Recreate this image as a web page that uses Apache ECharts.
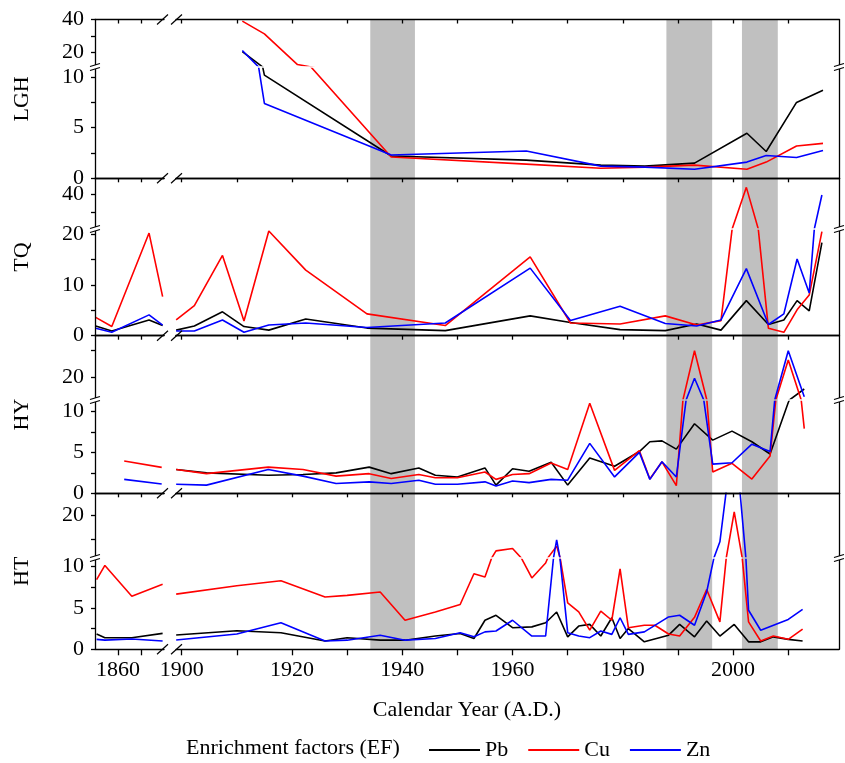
<!DOCTYPE html>
<html>
<head>
    <meta charset="utf-8">
    <title>Enrichment factors</title>
    <script src="https://cdn.jsdelivr.net/npm/echarts@6.0.0/dist/echarts.min.js"></script>
    <style>
        body{ margin: 0; background: #fff; }
        #main{ width: 845px; height: 763px; }
    </style>
</head>
<body>
<div id="main"></div>
<script>
    // ---------- data ----------
    var metals = ['Pb', 'Cu', 'Zn'];
    var metalColors = ['#000000', '#ff0000', '#0000ff'];

    // LGH core
    var lghYears = [1911, 1915, 1921, 1938, 1962.5, 1976, 1984, 1993, 2002.5, 2006, 2011.5, 2016.3];
    var lghPb = [20.4, 10.2, null, 2.2, 1.8, 1.3, 1.2, 1.5, 4.45, 2.65, 7.5, 8.7];
    var lghCu = [39, 31.2, 12.5, 2.1, 1.4, 1.0, 1.1, 1.3, 0.9, 1.6, 3.2, 3.45];
    var lghZn = [21.1, 7.4, null, 2.3, 2.7, 1.2, 1.1, 0.9, 1.6, 2.25, 2.05, 2.75];

    // TQ core
    var tqYears = [1850.3, 1857.3, 1873.5, 1879.4, 1899, 1902.3, 1907.4, 1911.3, 1915.8, 1922.5, 1933.6, 1947.8,
        1963.2, 1970.5, 1979.5, 1987.7, 1993.4, 1997.8, 2002.4, 2006.4, 2009.2, 2011.6, 2013.8, 2016.1];
    var tqPb = [1.9, 0.93, 3.1, 2.0, 1.1, 1.9, 4.7, 1.8, 1.1, 3.3, 1.5, 1.0,
        3.9, 2.6, 1.2, 1.0, 2.3, 1.1, 6.9, 2.2, 3.1, 6.9, 4.9, 18.3];
    var tqCu = [3.6, 1.8, 20.2, 7.7, 3.1, 5.9, 15.8, 2.9, 20.6, 12.9, 4.3, 2.0,
        15.5, 2.5, 2.3, 3.9, 2.1, 2.96, 44.0, 1.45, 0.67, 5.1, 8.0, 20.5];
    var tqZn = [1.45, 0.67, 4.1, 2.1, 0.93, 0.93, 3.1, 0.67, 2.1, 2.5, 1.6, 2.5,
        13.3, 3.0, 5.8, 2.4, 1.9, 3.1, 13.2, 2.2, 4.3, 15.1, 8.4, 39.8];

    // HY core
    var hyYears = [1862.7, 1879, 1899, 1904.5, 1915.7, 1922, 1928, 1934, 1938, 1943, 1946, 1950, 1955, 1957, 1960,
        1963, 1967, 1970, 1974, 1978.5, 1983, 1984.9, 1987.1, 1989.7, 1993, 1996.3, 1999.8, 2003.4, 2006.7, 2010, 2012.9];
    var hyPb = [null, null, 2.9, 2.5, 2.2, 2.3, 2.5, 3.2, 2.4, 3.1, 2.2, 2.0, 3.1, 1.0, 3.0,
        2.7, 3.8, 1.0, 4.3, 3.3, 5.1, 6.3, 6.4, 5.4, 8.5, 6.5, 7.6, 6.3, 4.8, 11.1, 15.5];
    var hyCu = [3.94, 3.17, 2.9, 2.4, 3.2, 2.9, 2.1, 2.4, 1.8, 2.3, 1.9, 1.9, 2.6, 1.7, 2.3,
        2.4, 3.7, 2.9, 11.0, 2.8, 5.2, 1.74, 3.85, 0.93, 29.8, 2.6, 3.66, 1.74, 4.55, 26.3, 7.9];
    var hyZn = [1.7, 1.13, 1.1, 1.0, 2.9, 2.1, 1.2, 1.4, 1.2, 1.6, 1.1, 1.1, 1.4, 0.9, 1.5,
        1.3, 1.7, 1.6, 6.1, 2.0, 5.0, 1.7, 3.85, 2.0, 19.5, 3.57, 3.73, 6.0, 5.1, 29.8, 12.6];

    // HT core
    var htYears = [1850.7, 1854.3, 1866, 1879.4, 1899, 1910, 1918, 1926, 1930, 1936, 1940.5, 1946, 1950.5, 1953,
        1955, 1957, 1960, 1963.5, 1966, 1968, 1970, 1972, 1974, 1976, 1978, 1979.5, 1981, 1983.9, 1985.8,
        1988.3, 1990.3, 1993, 1995.2, 1997.6, 2000.2, 2002.8, 2005, 2007.3, 2010, 2012.6];
    var htPb = [1.84, 1.4, 1.4, 1.92, 1.72, 2.24, 2.0, 1.0, 1.4, 1.1, 1.1, 1.6, 1.9, 1.3,
        3.5, 4.1, 2.6, 2.7, 3.2, 4.5, 1.5, 2.8, 3.0, 1.6, 3.8, 1.3, 2.5, 0.9, null,
        1.7, 3.0, 1.5, 3.4, 1.6, 3.0, 0.9, 0.9, 1.5, 1.2, 1.0];
    var htCu = [8.4, 10.1, 6.4, 7.85, 6.65, 7.65, 8.25, 6.3, 6.5, 6.9, 3.5, 4.5, 5.4, 9.1,
        8.7, 12.5, 13.0, 8.6, 10.4, 13.5, 5.6, 4.5, 2.3, 4.6, 3.5, 9.7, 2.6, 2.9, 2.9,
        1.84, 1.6, 3.85, 7.2, 3.3, 20.7, 3.3, 1.0, 1.6, 1.2, 2.44];
    var htZn = [1.2, 1.1, 1.24, 1.0, 1.12, 1.84, 3.2, 1.0, 1.1, 1.7, 1.1, 1.3, 2.0, 1.5,
        2.1, 2.2, 3.5, 1.6, 1.6, 14.8, 2.0, 1.6, 1.4, 2.2, 1.8, 3.8, 1.8, 2.1, null,
        3.9, 4.1, 2.9, 6.9, 14.4, 38.5, 4.7, 2.3, null, 3.6, 4.8];

    // shaded periods
    var grayBands = [[1934.2, 1942.3], [1987.9, 1996.2], [2001.6, 2008.1]];

    // x ticks / labels
    var xLeftTicks = [1860, 1870];
    var xLeftLabels = [1860];
    var xRightTicks = [1900, 1910, 1920, 1930, 1940, 1950, 1960, 1970, 1980, 1990, 2000, 2010];
    var xRightLabels = [1900, 1920, 1940, 1960, 1980, 2000];

    // ---------- layout ----------
    var fontFam = '"Liberation Serif", "Times New Roman", serif';
    var axisLineStyle = {color: '#000', width: 1.3};
    var G = 1.5; // half gap at the y breaks

    var xSegments = [
        {left: 95, width: 69, min: 1850, max: 1880, ticks: xLeftTicks, labels: xLeftLabels, isLeft: true},
        {left: 176, width: 663, min: 1898.97, max: 2019.2, ticks: xRightTicks, labels: xRightLabels, isLeft: false}
    ];

    var panels = [
        {name: 'LGH', years: lghYears, values: [lghPb, lghCu, lghZn], top: 19.5, brk: 67, bottom: 178.3,
            low: [0, 11], up: [11, 40], lowTicks: [0, 2.5, 5, 7.5, 10], lowLabels: [0, 5, 10], upTicks: [20, 30, 40], upLabels: [20, 40]},
        {name: 'TQ', years: tqYears, values: [tqPb, tqCu, tqZn], top: 178.3, brk: 229, bottom: 335.7,
            low: [0, 21], up: [21, 49], lowTicks: [0, 5, 10, 15, 20], lowLabels: [0, 10, 20], upTicks: [30, 40], upLabels: [40]},
        {name: 'HY', years: hyYears, values: [hyPb, hyCu, hyZn], top: 335.7, brk: 400, bottom: 493.3,
            low: [0, 11.4], up: [11.4, 35.4], lowTicks: [0, 2.5, 5, 7.5, 10], lowLabels: [0, 5, 10], upTicks: [20, 30], upLabels: [20]},
        {name: 'HT', years: htYears, values: [htPb, htCu, htZn], top: 493.3, brk: 558, bottom: 649.3,
            low: [0, 11], up: [11, 24.6], lowTicks: [0, 2.5, 5, 7.5, 10], lowLabels: [0, 5, 10], upTicks: [15, 20], upLabels: [20]}
    ];

    function plain(v) { return String(v); }

    var option = {
        animation: false,
        backgroundColor: '#fff',
        grid: [], xAxis: [], yAxis: [], series: [], graphic: [],
        legend: {
            data: metals, left: 424, top: 734, itemWidth: 51, itemHeight: 2, itemGap: 20, icon: 'rect',
            selectedMode: false,
            textStyle: {fontFamily: fontFam, fontSize: 22, color: '#000'}
        }
    };

    // grid holding the gray shaded periods across all panels
    option.grid.push({left: 176, width: 663, top: 19.5, height: 649.3 - 19.5, outerBoundsMode: 'none'});
    option.xAxis.push({gridIndex: 0, type: 'value', min: 1898.97, max: 2019.2, show: false});
    option.yAxis.push({gridIndex: 0, type: 'value', min: 0, max: 1, show: false});
    option.series.push({
        type: 'line', xAxisIndex: 0, yAxisIndex: 0, data: [[1950, -5]], symbol: 'none', z: 1, silent: true,
        lineStyle: {opacity: 0},
        markArea: {
            silent: true, itemStyle: {color: '#c0c0c0'},
            data: grayBands.map(function (b) { return [{xAxis: b[0]}, {xAxis: b[1]}]; })
        }
    });

    panels.forEach(function (p, pi) {
        var last = pi === panels.length - 1;
        var lowScale = (p.bottom - p.brk) / (p.low[1] - p.low[0]);
        var upScale = (p.brk - p.top) / (p.up[1] - p.up[0]);
        var parts = [
            {isUp: true, top: p.top, height: p.brk - G - p.top, min: p.up[0] + G / upScale, max: p.up[1], ticks: p.upTicks, labels: p.upLabels},
            {isUp: false, top: p.brk + G, height: p.bottom - p.brk - G, min: p.low[0], max: p.low[1] - G / lowScale, ticks: p.lowTicks, labels: p.lowLabels}
        ];
        parts.forEach(function (part) {
            xSegments.forEach(function (seg) {
                var gi = option.grid.length;
                option.grid.push({left: seg.left, width: seg.width, top: part.top, height: part.height, outerBoundsMode: 'none'});
                option.xAxis.push({
                    gridIndex: gi, type: 'value', min: seg.min, max: seg.max, z: 3,
                    position: part.isUp ? 'top' : 'bottom',
                    axisLine: {show: true, onZero: false, lineStyle: axisLineStyle},
                    axisTick: part.isUp
                        ? {show: true, inside: true, length: 4, customValues: seg.ticks, lineStyle: axisLineStyle}
                        : {show: last, inside: false, length: 6, customValues: seg.ticks, lineStyle: axisLineStyle},
                    axisLabel: {show: !part.isUp && last, customValues: seg.labels, margin: 10, formatter: plain,
                        fontFamily: fontFam, fontSize: 22, color: '#000'},
                    splitLine: {show: false}
                });
                option.yAxis.push({
                    gridIndex: gi, type: 'value', min: part.min, max: part.max, z: 3,
                    position: seg.isLeft ? 'left' : 'right',
                    axisLine: {show: true, onZero: false, lineStyle: axisLineStyle},
                    axisTick: {show: seg.isLeft, length: 4, customValues: part.ticks, lineStyle: axisLineStyle},
                    axisLabel: {show: seg.isLeft, customValues: part.labels, margin: 11, formatter: plain,
                        fontFamily: fontFam, fontSize: 22, color: '#000'},
                    splitLine: {show: false}
                });
                p.values.forEach(function (vals, mi) {
                    var data = [];
                    p.years.forEach(function (yr, k) {
                        if (vals[k] == null) return;
                        if ((yr < 1890) === seg.isLeft) data.push([yr, vals[k]]);
                    });
                    option.series.push({
                        type: 'line', name: metals[mi], xAxisIndex: gi, yAxisIndex: gi, data: data,
                        symbol: 'none', clip: true, silent: true, z: 2,
                        lineStyle: {color: metalColors[mi], width: 1.6},
                        itemStyle: {color: metalColors[mi]}
                    });
                });
            });
        });

        // panel name
        option.graphic.push({
            type: 'text', x: 22, y: (p.top + p.bottom) / 2, rotation: Math.PI / 2, z: 10,
            style: {text: p.name, font: '22px ' + fontFam, fill: '#000', textAlign: 'center', textVerticalAlign: 'middle'}
        });
        // y-axis break marks (left axis and right border)
        [95, 839].forEach(function (x) {
            option.graphic.push({type: 'rect', z: 10, shape: {x: x - 5, y: p.brk - 2, width: 10, height: 4}, style: {fill: '#fff'}});
            option.graphic.push({type: 'line', z: 11, shape: {x1: x - 5, y1: p.brk - 0.5, x2: x + 5, y2: p.brk - 3.5}, style: {stroke: '#000', lineWidth: 1.1}});
            option.graphic.push({type: 'line', z: 11, shape: {x1: x - 5, y1: p.brk + 3.5, x2: x + 5, y2: p.brk + 0.5}, style: {stroke: '#000', lineWidth: 1.1}});
        });
    });

    // x-axis break marks at every panel edge
    var edges = [19.5, 178.3, 335.7, 493.3, 649.3];
    edges.forEach(function (y) {
        option.graphic.push({type: 'line', z: 11, shape: {x1: 157, y1: y + 5, x2: 168, y2: y - 5}, style: {stroke: '#000', lineWidth: 1.2}});
        option.graphic.push({type: 'line', z: 11, shape: {x1: 171, y1: y + 5, x2: 182, y2: y - 5}, style: {stroke: '#000', lineWidth: 1.2}});
    });

    // axis title and legend caption
    option.graphic.push({
        type: 'text', x: 467, y: 710, z: 10,
        style: {text: 'Calendar Year (A.D.)', font: '22px ' + fontFam, fill: '#000', textAlign: 'center', textVerticalAlign: 'middle'}
    });
    option.graphic.push({
        type: 'text', x: 186, y: 748, z: 10,
        style: {text: 'Enrichment factors (EF)', font: '22px ' + fontFam, fill: '#000', textAlign: 'left', textVerticalAlign: 'middle'}
    });

    var chart = echarts.init(document.getElementById('main'));
    chart.setOption(option);
</script>
</body>
</html>
